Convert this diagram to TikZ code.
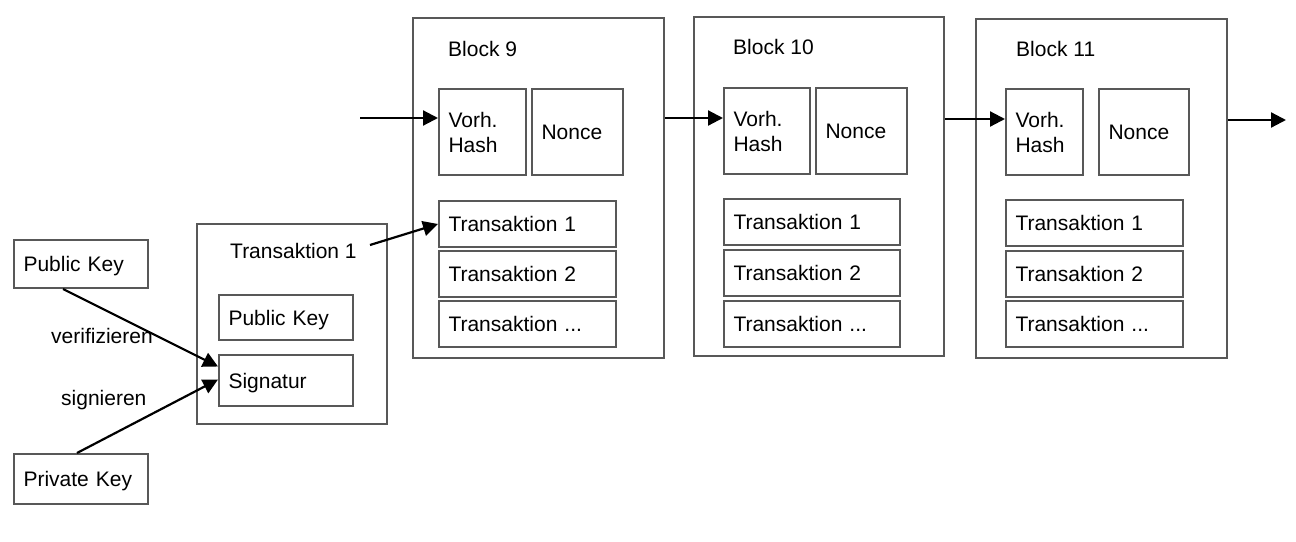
\documentclass[tikz,border=0pt]{standalone}
\usepackage{fontspec}
\setmainfont{Liberation Sans}
\usetikzlibrary{arrows.meta,calc}
\definecolor{boxgray}{HTML}{585858}
\newcommand\dfont{\fontsize{21}{25}\selectfont}
\begin{document}
\begin{tikzpicture}[x=1pt,y=-1pt,
  every node/.style={font=\dfont, text=black},
  frame/.style={draw=boxgray, line width=2pt, anchor=north west, inner sep=0pt},
  bx/.style n args={3}{draw=boxgray, line width=2pt, anchor=north west,
     inner xsep=9.5pt, inner ysep=0pt, align=left,
     minimum width=#1pt, text width=#2pt, minimum height=#3pt},
  one/.style={text height=15pt, text depth=0pt},
  lbl/.style={anchor=base west, inner sep=0pt},
  arr/.style={-{Triangle[length=15pt,width=15pt]}, line width=2.2pt, draw=black}
]
\useasboundingbox (0,0) rectangle (1296,541);

% left keys
\node[bx={134}{115}{48}, one] (pk) at (13,239) {Public Key};
\node[bx={134}{115}{50}, one] (sk) at (13,453) {Private Key};

% transaction
\node[frame, minimum width=190pt, minimum height=200pt] (tx) at (196,223) {};
\node[lbl] (txl) at (230,258) {Transaktion 1};
\node[bx={134}{115}{45}, one] (tpk) at (218,294) {Public Key};
\node[bx={134}{115}{51}, one] (sig) at (218,354) {Signatur};

\node[lbl] (ver) at (51,343) {verifizieren};
\node[lbl] (sgn) at (61,405) {signieren};

% Block 9
\node[frame, minimum width=251pt, minimum height=340pt] (b9) at (412,17) {};
\node[lbl] (b9l) at (448,56) {Block 9};
\node[bx={87}{68}{86}] (v9) at (438,88) {Vorh.\\Hash};
\node[bx={91}{72}{86}, one] (n9) at (531,88) {Nonce};
\node[bx={177}{158}{46}, one] (t91) at (438,200) {Transaktion 1};
\node[bx={177}{158}{46}, one] (t92) at (438,250) {Transaktion 2};
\node[bx={177}{158}{46}, one] (t93) at (438,300) {Transaktion ...};

% Block 10
\node[frame, minimum width=250pt, minimum height=339pt] (b10) at (693,16) {};
\node[lbl] (b10l) at (733,54) {Block 10};
\node[bx={86}{67}{86}] (v10) at (723,87) {Vorh.\\Hash};
\node[bx={91}{72}{86}, one] (n10) at (815,87) {Nonce};
\node[bx={176}{157}{46}, one] (t101) at (723,198) {Transaktion 1};
\node[bx={176}{157}{46}, one] (t102) at (723,248.5) {Transaktion 2};
\node[bx={176}{157}{46}, one] (t103) at (723,299.5) {Transaktion ...};

% Block 11
\node[frame, minimum width=251pt, minimum height=339pt] (b11) at (975,18) {};
\node[lbl] (b11l) at (1016,56) {Block 11};
\node[bx={77}{58}{86}] (v11) at (1005,88) {Vorh.\\Hash};
\node[bx={90}{71}{86}, one] (n11) at (1098,88) {Nonce};
\node[bx={177}{158}{46}, one] (t111) at (1005,199) {Transaktion 1};
\node[bx={177}{158}{46}, one] (t112) at (1005,250) {Transaktion 2};
\node[bx={177}{158}{46}, one] (t113) at (1005,300) {Transaktion ...};

% chain arrows
\coordinate (in9) at (360,118);
\draw[arr] (in9) -- (in9 -| v9.west);
\draw[arr] (b9.east |- 0,118) -- (v10.west |- 0,118);
\draw[arr] (b10.east |- 0,119) -- (v11.west |- 0,119);
\coordinate (out) at (1286,120);
\draw[arr] (b11.east |- out) -- (out);

% transaction into block
\coordinate (txout) at (370,245);
\draw[arr] (txout) -- (t91.west);

% key arrows
\draw[arr] ($(pk.south west)+(50,0)$) -- ([yshift=14pt]sig.west);
\draw[arr] ($(sk.north west)+(64,0)$) -- ([yshift=1pt]sig.west);
\end{tikzpicture}
\end{document}
